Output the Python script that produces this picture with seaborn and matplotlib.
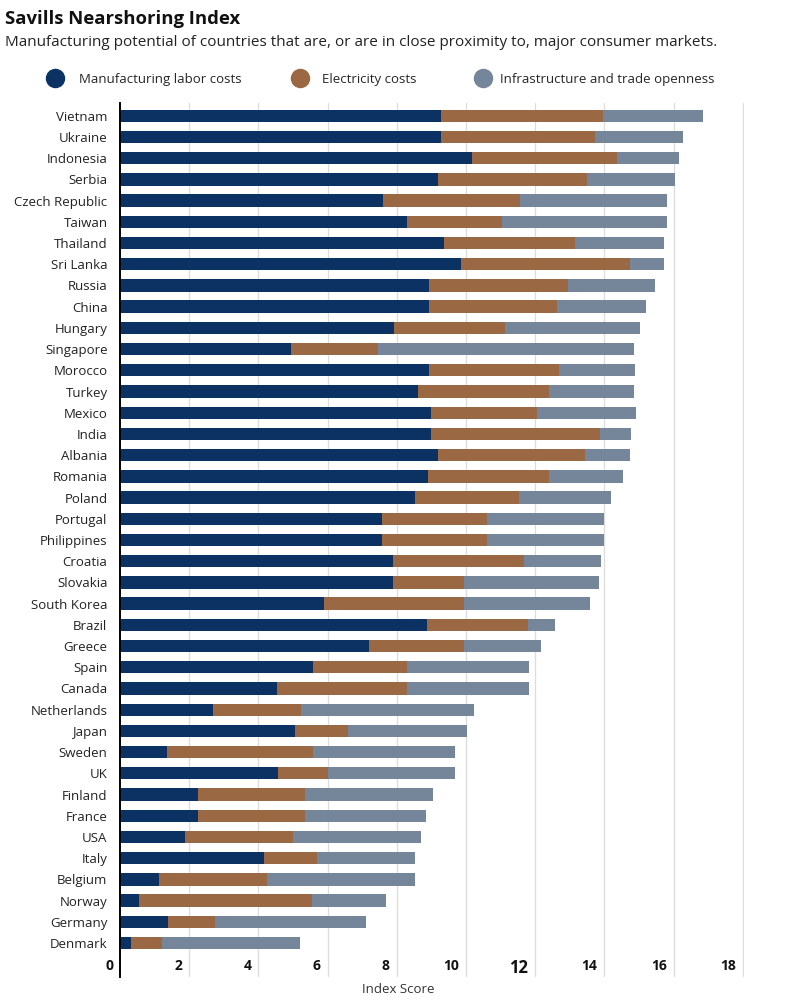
import matplotlib
matplotlib.use('Agg')
import matplotlib.pyplot as plt
from matplotlib.lines import Line2D
import matplotlib.transforms as mtrans
import seaborn as sns
import numpy as np
import pandas as pd

countries = ['Vietnam', 'Ukraine', 'Indonesia', 'Serbia', 'Czech Republic', 'Taiwan',
             'Thailand', 'Sri Lanka', 'Russia', 'China', 'Hungary', 'Singapore',
             'Morocco', 'Turkey', 'Mexico', 'India', 'Albania', 'Romania', 'Poland',
             'Portugal', 'Philippines', 'Croatia', 'Slovakia', 'South Korea', 'Brazil',
             'Greece', 'Spain', 'Canada', 'Netherlands', 'Japan', 'Sweden', 'UK',
             'Finland', 'France', 'USA', 'Italy', 'Belgium', 'Norway', 'Germany', 'Denmark']

labor = [9.29, 9.29, 10.17, 9.19, 7.59, 8.30, 9.37, 9.87, 8.92, 8.92, 7.92, 4.95,
         8.92, 8.60, 8.98, 8.98, 9.18, 8.90, 8.52, 7.58, 7.58, 7.90, 7.90, 5.90, 8.88,
         7.20, 5.58, 4.55, 2.69, 5.05, 1.36, 4.58, 2.25, 2.25, 1.88, 4.15, 1.12, 0.54,
         1.39, 0.33]
electricity = [4.68, 4.44, 4.19, 4.32, 3.97, 2.73, 3.79, 4.86, 4.02, 3.70, 3.22, 2.50,
               3.77, 3.81, 3.07, 4.89, 4.25, 3.51, 3.00, 3.04, 3.04, 3.78, 2.05, 4.04, 2.92,
               2.73, 2.72, 3.75, 2.55, 1.55, 4.21, 1.42, 3.09, 3.09, 3.11, 1.55, 3.12, 5.02,
               1.36, 0.87]
infrastructure = [2.89, 2.55, 1.80, 2.53, 4.25, 4.78, 2.56, 1.00, 2.52, 2.58, 3.89, 7.42,
                  2.19, 2.45, 2.87, 0.91, 1.30, 2.12, 2.66, 3.37, 3.37, 2.21, 3.90, 3.65, 0.77,
                  2.24, 3.52, 3.52, 5.00, 3.44, 4.10, 3.67, 3.72, 3.51, 3.70, 2.84, 4.29, 2.12,
                  4.36, 3.99]

series_names = ['Manufacturing labor costs', 'Electricity costs', 'Infrastructure and trade openness']
colors = ['#0b3263', '#9a6944', '#75859a']
x_ticks = [0, 2, 4, 6, 8, 10, 12, 14, 16, 18]

df = pd.DataFrame({'Country': countries, 'Labor': labor,
                   'Electricity': electricity, 'Infrastructure': infrastructure})
df['cum1'] = df['Labor']
df['cum2'] = df['Labor'] + df['Electricity']
df['cum3'] = df['cum2'] + df['Infrastructure']

sns.set_style('white')
plt.rcParams['font.family'] = ['Open Sans', 'DejaVu Sans']

fig = plt.figure(figsize=(8, 10.05), dpi=100)
ax = fig.add_axes([0.15, 0.0279, 0.7806, 0.8696])

# stacked bars drawn as overlapping cumulative bars
for col, c in zip(['cum3', 'cum2', 'cum1'], colors[::-1]):
    sns.barplot(data=df, x=col, y='Country', color=c, orient='h', width=0.58,
                saturation=1, linewidth=0, edgecolor=c, ax=ax, zorder=3)

ax.set_xlim(0, 18.05)
ax.set_ylim(len(countries) - 1 + 1.6, -0.6)
ax.set_xticks(x_ticks)
for x in x_ticks[1:]:
    ax.axvline(x, color='#dcdcdc', lw=0.9, zorder=1)

for s in ['top', 'right', 'bottom']:
    ax.spines[s].set_visible(False)
ax.spines['left'].set_color('black')
ax.spines['left'].set_linewidth(1.4)
ax.spines['left'].set_zorder(5)

ax.tick_params(axis='y', length=0, pad=9, labelsize=9.5, labelcolor='#222222')
ax.tick_params(axis='x', length=0, pad=-13)
ax.set_xticklabels([str(t) for t in x_ticks])
off = mtrans.ScaledTranslation(-5 / 72, 0, fig.dpi_scale_trans)
for lab, t in zip(ax.get_xticklabels(), x_ticks):
    lab.set_ha('right')
    lab.set_fontweight('bold')
    lab.set_fontsize(12 if t == 12 else 10)
    lab.set_color('#111111')
    lab.set_transform(lab.get_transform() + off)
ax.set_xlabel('')
ax.set_ylabel('')
fig.text(0.4975, 0.015, 'Index Score', ha='center', va='center', fontsize=9.5, color='#333333')

fig.text(0.006, 0.981, 'Savills Nearshoring Index', fontsize=13.3, fontweight='bold',
         ha='left', va='center', color='#111111')
fig.text(0.006, 0.958, 'Manufacturing potential of countries that are, or are in close '
         'proximity to, major consumer markets.', fontsize=11.0, ha='left', va='center',
         color='#222222')

# one legend per item so each sits where the original has it
leg_x = [0.0605, 0.3668, 0.5955]
leg_pad = [1.32, 1.17, 0.8]
for name, c, lx, lp in zip(series_names, colors, leg_x, leg_pad):
    h = Line2D([0], [0], marker='o', ls='', markersize=13, color=c)
    fig.legend([h], [name], loc='center left', bbox_to_anchor=(lx, 1 - 79 / 1005),
               frameon=False, fontsize=9.5, handletextpad=lp, handlelength=1.0,
               borderaxespad=0, borderpad=0)

fig.savefig('out.png', dpi=100)
